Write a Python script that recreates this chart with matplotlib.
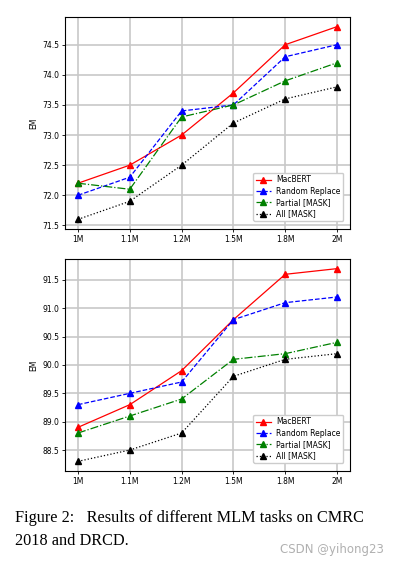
import matplotlib
matplotlib.use('Agg')
import matplotlib.pyplot as plt

steps = ['1M', '1.1M', '1.2M', '1.5M', '1.8M', '2M']
names = ['MacBERT', 'Random Replace', 'Partial [MASK]', 'All [MASK]']

# CMRC 2018
cmrc_macbert = [72.2, 72.5, 73.0, 73.7, 74.5, 74.8]
cmrc_random = [72.0, 72.3, 73.4, 73.5, 74.3, 74.5]
cmrc_partial = [72.2, 72.1, 73.3, 73.5, 73.9, 74.2]
cmrc_all = [71.6, 71.9, 72.5, 73.2, 73.6, 73.8]

# DRCD
drcd_macbert = [88.9, 89.3, 89.9, 90.8, 91.6, 91.7]
drcd_random = [89.3, 89.5, 89.7, 90.8, 91.1, 91.2]
drcd_partial = [88.8, 89.1, 89.4, 90.1, 90.2, 90.4]
drcd_all = [88.3, 88.5, 88.8, 89.8, 90.1, 90.2]

styles = [('r', '-'), ('b', '--'), ('g', '-.'), ('k', ':')]

fig = plt.figure(figsize=(3.99, 5.66), dpi=100)
ax1 = fig.add_axes([65 / 399, 1 - 229 / 566, 285 / 399, 212 / 566])
ax2 = fig.add_axes([65 / 399, 1 - 471 / 566, 285 / 399, 212 / 566])


def draw(ax, series):
    x = range(len(steps))
    for (c, ls), name, ys in zip(styles, names, series):
        ax.plot(x, ys, color=c, linestyle=ls, marker='^', markersize=3.8,
                linewidth=0.9, label=name)
    ax.set_xticks(list(x))
    ax.set_xticklabels(steps)
    ax.set_ylabel('EM', fontsize=5.5, labelpad=3)
    ax.tick_params(labelsize=5.5, length=2, width=0.6, pad=2)
    ax.grid(True, color='#c8c8c8', linewidth=1.2)
    ax.set_axisbelow(True)
    for s in ax.spines.values():
        s.set_linewidth(0.8)
    ax.legend(loc='lower right', fontsize=5.5, handlelength=2.0,
              borderpad=0.35, labelspacing=0.3, handletextpad=0.7,
              framealpha=1, bbox_to_anchor=(0.99, 0.02))


draw(ax1, [cmrc_macbert, cmrc_random, cmrc_partial, cmrc_all])
draw(ax2, [drcd_macbert, drcd_random, drcd_partial, drcd_all])

fig.text(15 / 399, 1 - 518 / 566, 'Figure 2:   Results of different MLM tasks on CMRC',
         family='Liberation Serif', fontsize=11.7, va='center')
fig.text(15 / 399, 1 - 541 / 566, '2018 and DRCD.',
         family='Liberation Serif', fontsize=11.7, va='center')
fig.text(384 / 399, 1 - 550 / 566, 'CSDN @yihong23', color='#b0b0b0',
         fontsize=8.5, ha='right', va='center')

fig.savefig('out.png', dpi=100)
